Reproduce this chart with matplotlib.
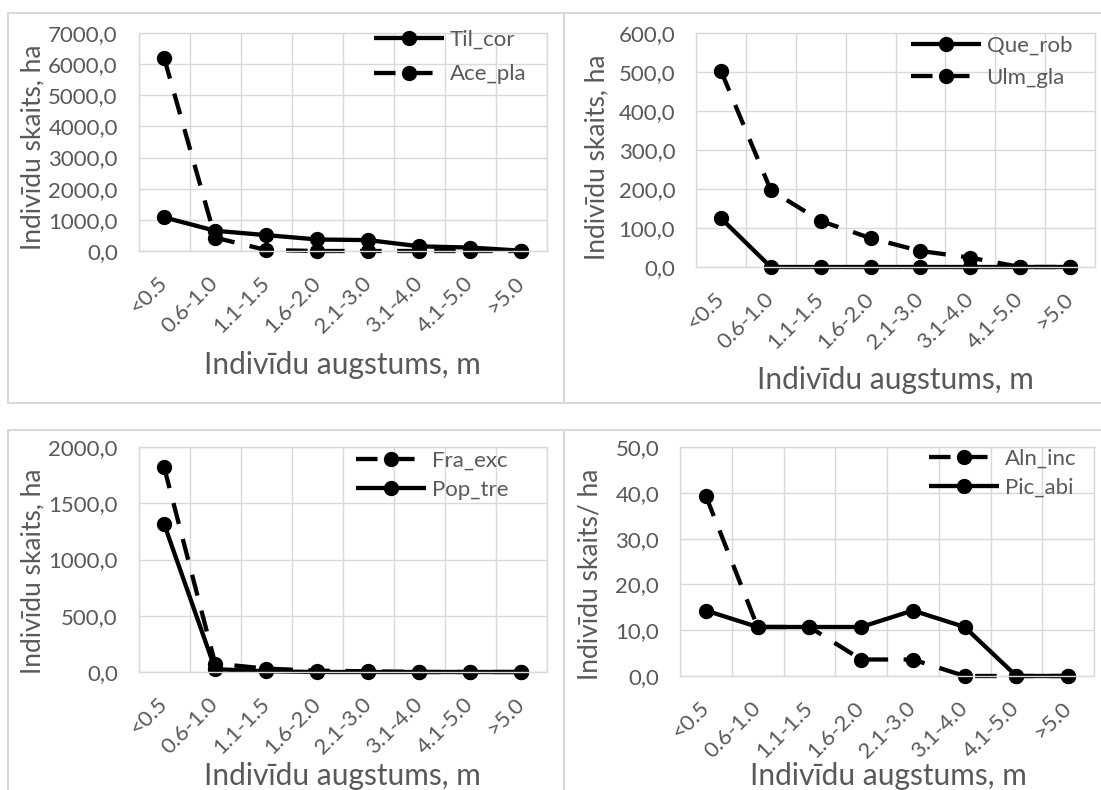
import numpy as np
import matplotlib.pyplot as plt
from matplotlib.patches import Rectangle
from matplotlib.ticker import FuncFormatter, MultipleLocator

plt.rcParams['font.family'] = ['Lato', 'DejaVu Sans']

heights = ['<0.5', '0.6-1.0', '1.1-1.5', '1.6-2.0', '2.1-3.0', '3.1-4.0', '4.1-5.0', '>5.0']

til_cor = [1080, 650, 510, 370, 350, 150, 110, 10]
ace_pla = [6200, 430, 30, 0, 0, 0, 0, 0]
que_rob = [125, 0, 0, 0, 0, 0, 0, 0]
ulm_gla = [503, 197, 118, 74, 41, 24, 0, 0]
fra_exc = [1820, 75, 30, 12, 6, 0, 0, 0]
pop_tre = [1315, 25, 6, 0, 0, 0, 0, 0]
aln_inc = [39.3, 10.7, 10.7, 3.6, 3.6, 0, 0, 0]
pic_abi = [14.3, 10.7, 10.7, 10.7, 14.3, 10.7, 0, 0]

W, H = 1101, 790
GRID = '#d9d9d9'
TXT = '#595959'
DASH = (5.0, 3.6)

fig = plt.figure(figsize=(W / 100, H / 100), dpi=100)


def box(l, t, r, b):
    return [l / W, 1 - b / H, (r - l) / W, (b - t) / H]


def fmt(v, pos):
    return f'{v:.1f}'.replace('.', ',')


# chart frames
for l, t, r, b in [(8, 13, 564, 403), (564, 13, 1115, 403),
                   (8, 430, 564, 805), (564, 430, 1115, 805)]:
    fig.add_artist(Rectangle((l / W, 1 - b / H), (r - l) / W, (b - t) / H,
                             transform=fig.transFigure, fill=False,
                             edgecolor=GRID, lw=1.5))

panels = [
    dict(rect=(138.6, 33, 547, 251), ymax=7000, step=1000,
         series=[('Til_cor', til_cor, '-'), ('Ace_pla', ace_pla, '--')],
         ylab='Indivīdu skaits, ha', ylpos=(33, 147), xlpos=(342, 365),
         leg=(374, 44), lsp=0.65),
    dict(rect=(696, 33, 1095, 267), ymax=600, step=100,
         series=[('Que_rob', que_rob, '-'), ('Ulm_gla', ulm_gla, '--')],
         ylab='Indivīdu skaits, ha', ylpos=(597, 157), xlpos=(895, 380),
         leg=(911, 50), lsp=0.55),
    dict(rect=(138.6, 447, 547, 672), ymax=2000, step=500,
         series=[('Fra_exc', fra_exc, '--'), ('Pop_tre', pop_tre, '-')],
         ylab='Indivīdu skaits, ha', ylpos=(33, 571), xlpos=(342, 776),
         leg=(356, 465), lsp=0.4),
    dict(rect=(680, 447, 1094, 676), ymax=50, step=10,
         series=[('Aln_inc', aln_inc, '--'), ('Pic_abi', pic_abi, '-')],
         ylab='Indivīdu skaits/ ha', ylpos=(590, 574), xlpos=(888, 776),
         leg=(929, 463), lsp=0.4),
]

x = np.arange(len(heights))
for p in panels:
    ax = fig.add_axes(box(*p['rect']))
    for name, vals, ls in p['series']:
        line, = ax.plot(x, vals, color='black', lw=3.1, marker='o', ms=10,
                        label=name, solid_capstyle='butt', clip_on=False)
        if ls == '--':
            line.set_dashes(DASH)
    ax.set_xlim(-0.5, len(heights) - 0.5)
    ax.set_ylim(0, p['ymax'])
    ax.yaxis.set_major_locator(MultipleLocator(p['step']))
    ax.yaxis.set_major_formatter(FuncFormatter(fmt))
    ax.set_xticks(x)
    ax.set_xticklabels(heights, rotation=45, ha='right', va='center',
                       rotation_mode='anchor')
    ax.set_xticks(np.arange(-0.5, len(heights)), minor=True)
    ax.tick_params(axis='both', which='both', length=0, colors=TXT, labelsize=16)
    ax.tick_params(axis='y', pad=15)
    ax.tick_params(axis='x', pad=21)
    ax.grid(axis='y', which='major', color=GRID, lw=1)
    ax.grid(axis='x', which='minor', color=GRID, lw=1)
    ax.set_axisbelow(True)
    for s in ax.spines.values():
        s.set_color(GRID)
        s.set_linewidth(1)

    lx, ly = p['leg']
    ax.legend(loc='upper left', bbox_to_anchor=(lx / W, 1 - (ly - 14) / H),
              bbox_transform=fig.transFigure, frameon=False, fontsize=16,
              labelcolor=TXT, handlelength=3.15, handletextpad=0.25,
              labelspacing=p['lsp'], borderpad=0, borderaxespad=0, numpoints=1)

    fig.text(p['ylpos'][0] / W, 1 - p['ylpos'][1] / H, p['ylab'], rotation=90,
             ha='center', va='center', fontsize=19, color=TXT)
    fig.text(p['xlpos'][0] / W, 1 - p['xlpos'][1] / H, 'Indivīdu augstums, m',
             ha='center', va='center', fontsize=21.5, color=TXT)

fig.savefig('out.png', dpi=100)
